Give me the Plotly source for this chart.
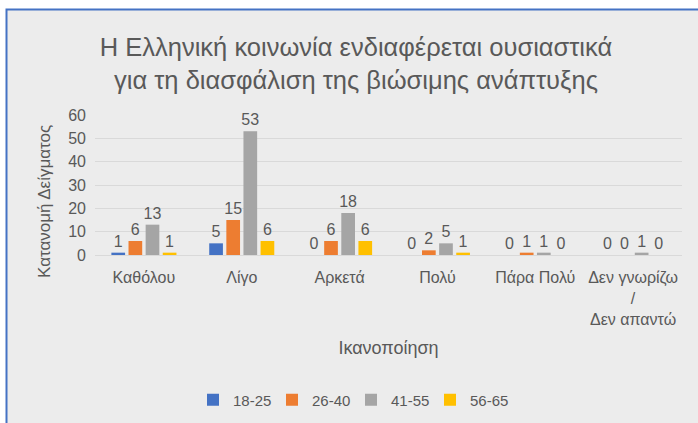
import plotly.graph_objects as go

categories = ["Καθόλου", "Λίγο", "Αρκετά", "Πολύ", "Πάρα Πολύ", "Δεν γνωρίζω<br>/<br>Δεν απαντώ"]
series_names = ["18-25", "26-40", "41-55", "56-65"]
v_18_25 = [1, 5, 0, 0, 0, 0]
v_26_40 = [6, 15, 6, 2, 1, 0]
v_41_55 = [13, 53, 18, 5, 1, 1]
v_56_65 = [1, 6, 6, 1, 0, 0]
colors = ["#4472C4", "#ED7D31", "#A5A5A5", "#FFC000"]

title_text = "Η Ελληνική κοινωνία ενδιαφέρεται ουσιαστικά<br>για τη διασφάλιση της βιώσιμης ανάπτυξης"
y_title = "Κατανομή Δείγματος"
x_title = "Ικανοποίηση"

FONT = "Liberation Sans"
TXT = "#595959"

fig = go.Figure()
for name, vals, col in zip(series_names, [v_18_25, v_26_40, v_41_55, v_56_65], colors):
    fig.add_trace(go.Bar(
        x=categories, y=vals, name=name, marker_color=col, marker_line_width=0,
        text=[str(v) for v in vals], textposition="outside", constraintext="none",
        textfont=dict(family=FONT, size=16, color=TXT), cliponaxis=False,
    ))

# plot area: x 95..682 px, y 115..255 px
L, R, T, B = 95, 16, 115, 168
W, H = 698, 423
pw = W - L - R
ph = H - T - B

def px2x(px):
    return (px - L) / pw

def py2y(py):
    return (H - B - py) / ph

fig.update_layout(
    width=W, height=H,
    margin=dict(l=L, r=R, t=T, b=B, pad=0, autoexpand=False),
    paper_bgcolor="white",
    plot_bgcolor="rgba(0,0,0,0)",
    font=dict(family=FONT, color=TXT, size=15),
    barmode="group", bargap=0.3, bargroupgap=0.2,
    title=dict(text=title_text, x=356 / W, xanchor="center", y=1 - 56 / H, yanchor="middle",
               font=dict(family=FONT, size=25.5, color=TXT)),
    showlegend=True,
    legend=dict(orientation="h", x=px2x(193), xanchor="left", y=py2y(400), yanchor="middle",
                font=dict(family=FONT, size=15, color=TXT), bgcolor="rgba(0,0,0,0)",
                itemwidth=30, entrywidth=34, entrywidthmode="pixels", traceorder="normal"),
    shapes=[
        dict(type="rect", xref="paper", yref="paper", layer="below",
             x0=px2x(6.5), x1=px2x(705), y0=py2y(430), y1=py2y(9.5),
             fillcolor="#ECECEC", line=dict(color="#4472C4", width=2)),
    ],
    annotations=[
        dict(text=y_title, textangle=-90, xref="paper", yref="paper",
             x=px2x(44), y=py2y(202), xanchor="center", yanchor="middle",
             showarrow=False, font=dict(family=FONT, size=17, color=TXT)),
    ],
)
fig.update_xaxes(
    showgrid=False, showline=True, linecolor="#D9D9D9", linewidth=1,
    tickfont=dict(family=FONT, size=16, color=TXT), ticks="", ticklabelstandoff=8,
    title=dict(text=x_title, font=dict(family=FONT, size=18, color=TXT), standoff=14),
)
fig.update_yaxes(
    range=[0, 60], dtick=10, showgrid=True, gridcolor="#D9D9D9", gridwidth=1,
    zeroline=False, showline=False, ticks="", ticklabelstandoff=8,
    tickfont=dict(family=FONT, size=16, color=TXT),
)

fig.write_html("out.html", config={"displayModeBar": False},
               post_script="document.body.style.margin='0';")
